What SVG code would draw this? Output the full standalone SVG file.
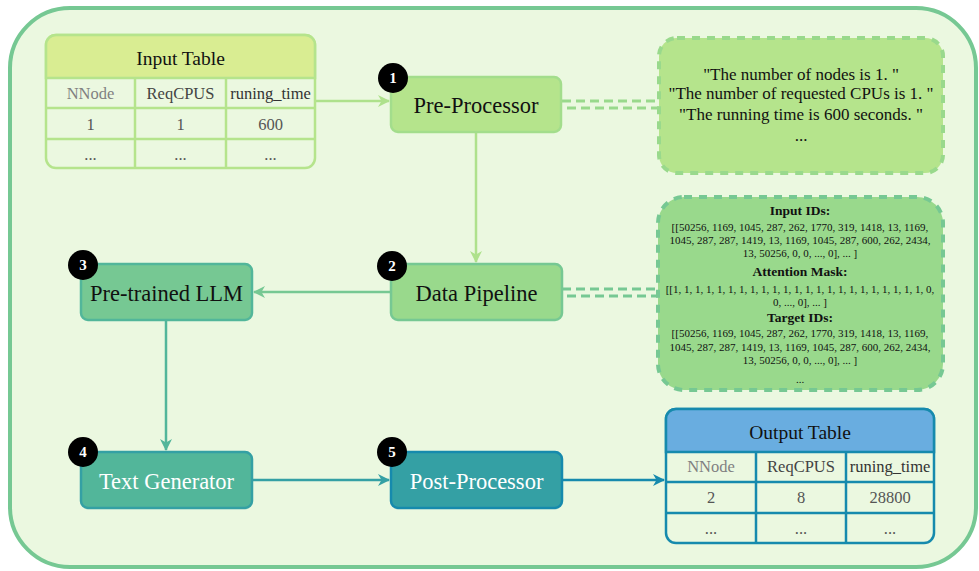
<svg xmlns="http://www.w3.org/2000/svg" width="979" height="571" viewBox="0 0 979 571">
<style>
text{font-family:"Liberation Serif","Times New Roman",serif;}
.box{stroke-width:2.5;}
.lbl{font-size:22.5px;text-anchor:middle;fill:#111;}
.wlbl{font-size:22.5px;text-anchor:middle;fill:#fff;}
.badge circle{fill:#000;}
.badge text{fill:#fff;font-weight:bold;font-size:15px;text-anchor:middle;}
.th{font-size:19.5px;text-anchor:middle;fill:#111;}
.ch{font-size:16.5px;text-anchor:middle;}
.cv{font-size:16.5px;text-anchor:middle;fill:#555;}
.note{stroke-width:4;stroke-dasharray:8 7;}
.n1{font-size:17px;text-anchor:middle;fill:#111;}
.n2{font-size:11px;text-anchor:middle;fill:#111;}
.n2b{font-size:13.5px;font-weight:bold;text-anchor:middle;fill:#111;}
.conn{fill:none;stroke-width:2.5;}
.dash{fill:none;stroke-width:3;stroke-dasharray:9 5;}
</style>
<defs>
<marker id="a1" viewBox="0 0 12 12" refX="11" refY="6" markerWidth="12" markerHeight="12" markerUnits="userSpaceOnUse" orient="auto"><path d="M0,0 L12,6 L0,12 L3.5,6 Z" fill="#aee18c"/></marker>
<marker id="a2" viewBox="0 0 12 12" refX="11" refY="6" markerWidth="12" markerHeight="12" markerUnits="userSpaceOnUse" orient="auto"><path d="M0,0 L12,6 L0,12 L3.5,6 Z" fill="#76c893"/></marker>
<marker id="a3" viewBox="0 0 12 12" refX="11" refY="6" markerWidth="12" markerHeight="12" markerUnits="userSpaceOnUse" orient="auto"><path d="M0,0 L12,6 L0,12 L3.5,6 Z" fill="#52b69a"/></marker>
<marker id="a4" viewBox="0 0 12 12" refX="11" refY="6" markerWidth="12" markerHeight="12" markerUnits="userSpaceOnUse" orient="auto"><path d="M0,0 L12,6 L0,12 L3.5,6 Z" fill="#34a0a4"/></marker>
<marker id="a5" viewBox="0 0 12 12" refX="11" refY="6" markerWidth="12" markerHeight="12" markerUnits="userSpaceOnUse" orient="auto"><path d="M0,0 L12,6 L0,12 L3.5,6 Z" fill="#168aad"/></marker>
</defs>

<g id="container">
<rect x="10" y="8" width="966" height="559" rx="60" fill="#ebf8e0" stroke="#76c893" stroke-width="4"/>
</g>

<g id="connectors">
<line class="conn" x1="315" y1="101" x2="389" y2="101" stroke="#aee18c" marker-end="url(#a1)"/>
<line class="conn" x1="476" y1="132" x2="476" y2="262" stroke="#aee18c" marker-end="url(#a1)"/>
<line class="conn" x1="391" y1="292" x2="254" y2="292" stroke="#76c893" marker-end="url(#a2)"/>
<line class="conn" x1="166" y1="320" x2="166" y2="450" stroke="#52b69a" marker-end="url(#a3)"/>
<line class="conn" x1="252" y1="480" x2="389" y2="480" stroke="#34a0a4" marker-end="url(#a4)"/>
<line class="conn" x1="562" y1="480" x2="664" y2="480" stroke="#168aad" marker-end="url(#a5)"/>
<line class="dash" x1="562" y1="101" x2="659" y2="101" stroke="#99d98c"/>
<line class="dash" x1="567" y1="108" x2="659" y2="108" stroke="#99d98c"/>
<line class="dash" x1="562" y1="289" x2="658" y2="289" stroke="#76c893"/>
<line class="dash" x1="567" y1="296" x2="658" y2="296" stroke="#76c893"/>
</g>

<g id="input-table">
<rect x="46" y="35" width="269" height="133" rx="10" fill="#ebf8e0" stroke="#b5e48c" stroke-width="2.5"/>
<path d="M46,78 V45 A10,10 0 0 1 56,35 H305 A10,10 0 0 1 315,45 V78 Z" fill="#d9ed92" stroke="#b5e48c" stroke-width="2.5"/>
<g stroke="#b5e48c" stroke-width="2.5">
<line x1="46" y1="108" x2="315" y2="108"/>
<line x1="46" y1="139" x2="315" y2="139"/>
<line x1="135" y1="78" x2="135" y2="168"/>
<line x1="226" y1="78" x2="226" y2="168"/>
</g>
<text class="th" x="180.5" y="65">Input Table</text>
<text class="ch" x="90.5" y="99" fill="#808080">NNode</text>
<text class="ch" x="180.5" y="99" fill="#444">ReqCPUS</text>
<text class="ch" x="270.5" y="99" fill="#333">runing_time</text>
<text class="cv" x="90.5" y="130">1</text>
<text class="cv" x="180.5" y="130">1</text>
<text class="cv" x="270.5" y="130">600</text>
<text class="cv" x="90.5" y="160">...</text>
<text class="cv" x="180.5" y="160">...</text>
<text class="cv" x="270.5" y="160">...</text>
</g>

<g id="pre-processor">
<rect class="box" x="391" y="77" width="170" height="55" rx="7" fill="#b5e48c" stroke="#a3dd8c"/>
<text class="lbl" x="476" y="113">Pre-Processor</text>
<g class="badge"><circle cx="393" cy="78" r="15"/><text x="393" y="83">1</text></g>
</g>

<g id="text-note">
<rect class="note" x="659" y="38" width="284" height="135" rx="18" fill="#b5e48c" stroke="#99d98c"/>
<text class="n1" x="801" y="80">"The number of nodes is 1. "</text>
<text class="n1" x="801" y="99">"The number of requested CPUs is 1. "</text>
<text class="n1" x="801" y="120">"The running time is 600 seconds. "</text>
<text class="n1" x="801" y="141">...</text>
</g>

<g id="data-pipeline">
<rect class="box" x="391" y="264" width="171" height="56" rx="7" fill="#99d98c" stroke="#76c893"/>
<text class="lbl" x="476.5" y="301">Data Pipeline</text>
<g class="badge"><circle cx="392" cy="266" r="15"/><text x="392" y="271">2</text></g>
</g>

<g id="token-note">
<rect class="note" x="658" y="197" width="285" height="193" rx="26" fill="#99d98c" stroke="#76c893"/>
<text class="n2b" x="800" y="215">Input IDs:</text>
<text class="n2" x="800" y="231">[[50256, 1169, 1045, 287, 262, 1770, 319, 1418, 13, 1169,</text>
<text class="n2" x="800" y="244">1045, 287, 287, 1419, 13, 1169, 1045, 287, 600, 262, 2434,</text>
<text class="n2" x="800" y="257">13, 50256, 0, 0, ..., 0], ...  ]</text>
<text class="n2b" x="800" y="276">Attention Mask:</text>
<text class="n2" x="800" y="293">[[1, 1, 1, 1, 1, 1, 1, 1, 1, 1, 1, 1, 1, 1, 1, 1, 1, 1, 1, 1, 1, 1, 1, 0,</text>
<text class="n2" x="800" y="306">0, ..., 0], ...  ]</text>
<text class="n2b" x="800" y="322">Target IDs:</text>
<text class="n2" x="800" y="337">[[50256, 1169, 1045, 287, 262, 1770, 319, 1418, 13, 1169,</text>
<text class="n2" x="800" y="351">1045, 287, 287, 1419, 13, 1169, 1045, 287, 600, 262, 2434,</text>
<text class="n2" x="800" y="364">13, 50256, 0, 0, ..., 0], ...  ]</text>
<text class="n2" x="800" y="383">...</text>
</g>

<g id="pretrained-llm">
<rect class="box" x="81" y="264" width="171" height="56" rx="7" fill="#76c893" stroke="#52b69a"/>
<text class="lbl" x="166.5" y="301">Pre-trained LLM</text>
<g class="badge"><circle cx="83" cy="265" r="15"/><text x="83" y="270">3</text></g>
</g>

<g id="text-generator">
<rect class="box" x="81" y="452" width="171" height="56" rx="7" fill="#52b69a" stroke="#34a0a4"/>
<text class="wlbl" x="166.5" y="489">Text Generator</text>
<g class="badge"><circle cx="83" cy="452" r="15"/><text x="83" y="457">4</text></g>
</g>

<g id="post-processor">
<rect class="box" x="391" y="452" width="171" height="56" rx="7" fill="#34a0a4" stroke="#168aad"/>
<text class="wlbl" x="476.5" y="489">Post-Processor</text>
<g class="badge"><circle cx="392" cy="452" r="15"/><text x="392" y="457">5</text></g>
</g>

<g id="output-table">
<rect x="666" y="409" width="268" height="134" rx="10" fill="#ebf8e0" stroke="#168aad" stroke-width="2.5"/>
<path d="M666,452 V419 A10,10 0 0 1 676,409 H924 A10,10 0 0 1 934,419 V452 Z" fill="#69ade0" stroke="#168aad" stroke-width="2.5"/>
<g stroke="#168aad" stroke-width="2.5">
<line x1="666" y1="482" x2="934" y2="482"/>
<line x1="666" y1="513" x2="934" y2="513"/>
<line x1="756" y1="452" x2="756" y2="543"/>
<line x1="846" y1="452" x2="846" y2="543"/>
</g>
<text class="th" x="800" y="439">Output Table</text>
<text class="ch" x="711" y="472" fill="#808080">NNode</text>
<text class="ch" x="801" y="472" fill="#444">ReqCPUS</text>
<text class="ch" x="890" y="472" fill="#333">runing_time</text>
<text class="cv" x="711" y="503">2</text>
<text class="cv" x="801" y="503">8</text>
<text class="cv" x="890" y="503">28800</text>
<text class="cv" x="711" y="534">...</text>
<text class="cv" x="801" y="534">...</text>
<text class="cv" x="890" y="534">...</text>
</g>
</svg>
